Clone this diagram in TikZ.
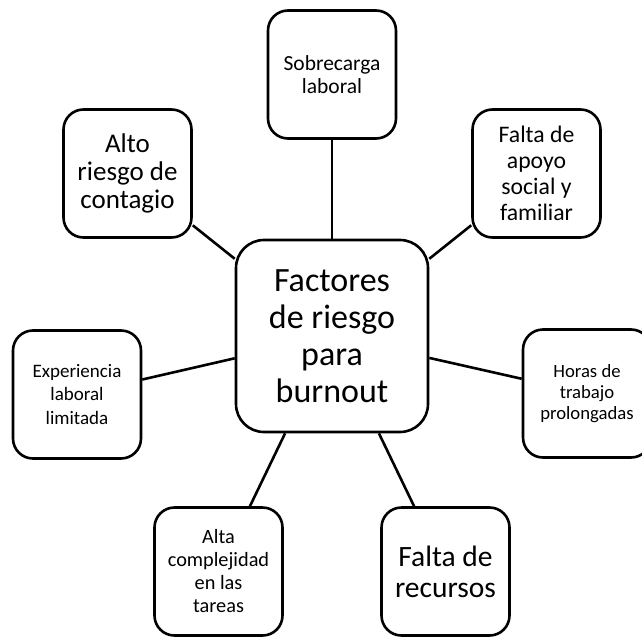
\documentclass[tikz,border=0pt]{standalone}
\usepackage{fontspec}
\setmainfont{Carlito}
\tikzset{
  box/.style={draw, line width=2.6pt, rounded corners=20pt, align=center, inner sep=0pt},
  leaf/.style={box, minimum width=128pt, minimum height=128pt},
  hub/.style={box, rounded corners=28pt, minimum width=192pt, minimum height=192pt,
    font=\fontsize{34}{37}\selectfont},
  link/.style={line width=2.6pt}
}
\begin{document}
\begin{tikzpicture}[x=1pt, y=-1pt]
\useasboundingbox (0,0) rectangle (642,637);
\node[hub] (hub) at (332,336) {Factores\\de riesgo\\para\\burnout};
\node[leaf, font=\fontsize{21.5}{23}\selectfont] (sobrecarga) at (332,74.5) {Sobrecarga\\laboral};
\node[leaf, font=\fontsize{27}{28}\selectfont] (contagio) at (127.5,173.5) {Alto\\riesgo de\\contagio};
\node[leaf, font=\fontsize{23.7}{26}\selectfont] (apoyo) at (536.5,173.5) {Falta de\\apoyo\\social y\\familiar};
\node[leaf, font=\fontsize{19}{23.5}\selectfont] (experiencia) at (77,394.5) {Experiencia\\laboral\\limitada};
\node[leaf, font=\fontsize{18.7}{21}\selectfont] (horas) at (587,393.5) {Horas de\\trabajo\\prolongadas};
\node[leaf, font=\fontsize{20.3}{23}\selectfont] (complejidad) at (218.5,571.5) {Alta\\complejidad\\en las\\tareas};
\node[leaf, font=\fontsize{29.5}{31}\selectfont] (recursos) at (445.5,571.5) {Falta de\\recursos};
\foreach \n in {sobrecarga, contagio, apoyo, experiencia, horas, complejidad, recursos}
  \draw[link] (hub) -- (\n);
\end{tikzpicture}
\end{document}
